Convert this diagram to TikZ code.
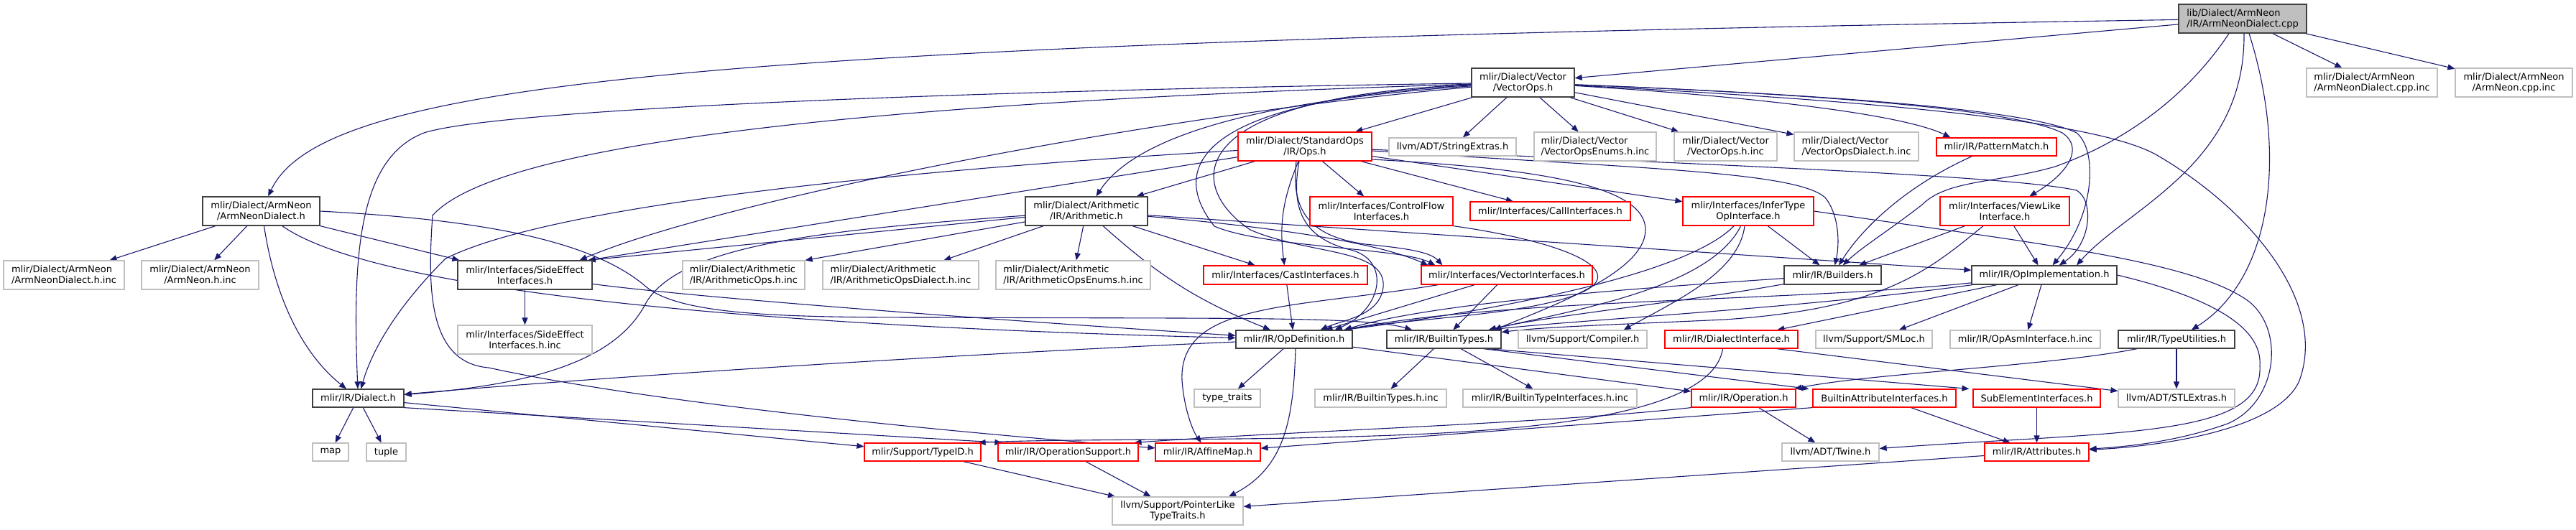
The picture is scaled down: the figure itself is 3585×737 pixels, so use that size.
\documentclass[tikz,border=0pt]{standalone}
\usepackage{fontspec}
\setmainfont{DejaVu Sans}
\usetikzlibrary{arrows.meta}
\pgfdeclarelayer{bg}
\pgfsetlayers{bg,main}
\definecolor{edgec}{RGB}{25,25,112}
\definecolor{gbord}{RGB}{191,191,191}
\definecolor{dbord}{RGB}{64,64,64}
\definecolor{rbord}{RGB}{255,0,0}
\definecolor{rootfill}{RGB}{191,191,191}
\begin{document}
\begin{tikzpicture}[x=1pt,y=-1pt,
  every node/.style={inner sep=0pt, font=\fontsize{13}{15}\selectfont, align=center},
  sz/.style 2 args={minimum width=#1pt, minimum height=#2pt},
  nb/.style={draw=dbord, line width=1.3pt, fill=white},
  nr/.style={draw=rbord, line width=1.2pt, fill=white},
  ng/.style={draw=gbord, line width=1.2pt, fill=white},
  nroot/.style={draw=dbord, line width=1.3pt, fill=rootfill},
  edge/.style={draw=edgec, line width=1.1pt, -{Triangle[length=10pt,width=8pt]}},
]
\useasboundingbox (0,0) rectangle (3585,737);
% ---------------- nodes ----------------
\node[nroot, sz={178}{40}, align=left] (cpp) at (3121,26) {lib/Dialect/ArmNeon\\/IR/ArmNeonDialect.cpp};
\node[nb, sz={143}{40}] (vecops) at (2119.5,115) {mlir/Dialect/Vector\\/VectorOps.h};
\node[ng, sz={182}{40}, align=left] (cppinc) at (3301,115) {mlir/Dialect/ArmNeon\\/ArmNeonDialect.cpp.inc};
\node[ng, sz={163}{40}] (neoncppinc) at (3498.5,115) {mlir/Dialect/ArmNeon\\/ArmNeon.cpp.inc};
\node[nr, sz={186}{40}] (stdops) at (1816,204) {mlir/Dialect/StandardOps\\/IR/Ops.h};
\node[ng, sz={177}{25}] (strext) at (2021.5,204.5) {llvm/ADT/StringExtras.h};
\node[ng, sz={170}{40}, align=left] (enumsinc) at (2220,204) {mlir/Dialect/Vector\\/VectorOpsEnums.h.inc};
\node[ng, sz={143}{40}] (vopsinc) at (2401.5,204) {mlir/Dialect/Vector\\/VectorOps.h.inc};
\node[ng, sz={173}{40}, align=left] (vdialinc) at (2583.5,204) {mlir/Dialect/Vector\\/VectorOpsDialect.h.inc};
\node[nr, sz={167}{25}] (pattern) at (2778.5,204.5) {mlir/IR/PatternMatch.h};
\node[nb, sz={163}{40}] (andh) at (363.5,294) {mlir/Dialect/ArmNeon\\/ArmNeonDialect.h};
\node[nb, sz={170}{40}] (arith) at (1512,294) {mlir/Dialect/Arithmetic\\/IR/Arithmetic.h};
\node[nr, sz={199}{40}] (cflow) at (1922.5,294) {mlir/Interfaces/ControlFlow\\Interfaces.h};
\node[nr, sz={223}{26}] (call) at (2157.5,294) {mlir/Interfaces/CallInterfaces.h};
\node[nr, sz={182}{40}] (infer) at (2433,294) {mlir/Interfaces/InferType\\OpInterface.h};
\node[nr, sz={180}{40}] (viewlike) at (2790,294) {mlir/Interfaces/ViewLike\\Interface.h};
\node[ng, sz={168}{40}, align=left] (andhinc) at (89,383) {mlir/Dialect/ArmNeon\\/ArmNeonDialect.h.inc};
\node[ng, sz={163}{40}] (neonhinc) at (278.5,383) {mlir/Dialect/ArmNeon\\/ArmNeon.h.inc};
\node[nb, sz={187}{40}] (side) at (730.5,383) {mlir/Interfaces/SideEffect\\Interfaces.h};
\node[ng, sz={170}{40}, align=left] (arops) at (1035,383) {mlir/Dialect/Arithmetic\\/IR/ArithmeticOps.h.inc};
\node[ng, sz={217}{40}, align=left] (ardialect) at (1253.5,383) {mlir/Dialect/Arithmetic\\/IR/ArithmeticOpsDialect.h.inc};
\node[ng, sz={215}{40}, align=left] (arenums) at (1493.5,383) {mlir/Dialect/Arithmetic\\/IR/ArithmeticOpsEnums.h.inc};
\node[nr, sz={228}{26}] (cast) at (1789,383) {mlir/Interfaces/CastInterfaces.h};
\node[nr, sz={238}{26}] (vecint) at (2097,383) {mlir/Interfaces/VectorInterfaces.h};
\node[nb, sz={135}{26}] (builders) at (2550.5,383) {mlir/IR/Builders.h};
\node[nb, sz={202}{26}] (opimpl) at (2845,383) {mlir/IR/OpImplementation.h};
\node[ng, sz={187}{40}] (sideinc) at (730.5,473) {mlir/Interfaces/SideEffect\\Interfaces.h.inc};
\node[nb, sz={162}{25}] (opdef) at (1801,472.5) {mlir/IR/OpDefinition.h};
\node[nb, sz={159}{25}] (btypes) at (2009.5,472.5) {mlir/IR/BuiltinTypes.h};
\node[ng, sz={179}{25}] (compiler) at (2202.5,472.5) {llvm/Support/Compiler.h};
\node[nr, sz={185}{25}] (dialectif) at (2409.5,472.5) {mlir/IR/DialectInterface.h};
\node[ng, sz={162}{25}] (smloc) at (2608,472.5) {llvm/Support/SMLoc.h};
\node[ng, sz={209}{25}] (opasm) at (2818.5,472.5) {mlir/IR/OpAsmInterface.h.inc};
\node[nb, sz={162}{25}] (typeutil) at (3029,472.5) {mlir/IR/TypeUtilities.h};
\node[nb, sz={127}{25}] (dialect) at (498.5,554.5) {mlir/IR/Dialect.h};
\node[ng, sz={92}{25}] (typetraits) at (1708,554.5) {type\_traits};
\node[ng, sz={183}{25}] (btinc) at (1921.5,554.5) {mlir/IR/BuiltinTypes.h.inc};
\node[ng, sz={242}{25}] (btifinc) at (2157,554.5) {mlir/IR/BuiltinTypeInterfaces.h.inc};
\node[nr, sz={145}{25}] (operation) at (2426.5,554.5) {mlir/IR/Operation.h};
\node[nr, sz={199}{25}] (battrif) at (2622.5,554.5) {BuiltinAttributeInterfaces.h};
\node[nr, sz={177}{25}] (subel) at (2834.5,554.5) {SubElementInterfaces.h};
\node[ng, sz={162}{25}] (stl) at (3029,554.5) {llvm/ADT/STLExtras.h};
\node[ng, sz={50}{25}] (map) at (460,629.5) {map};
\node[ng, sz={55}{25}] (tuple) at (537.5,629.5) {tuple};
\node[nr, sz={162}{25}] (typeid) at (1284,629.5) {mlir/Support/TypeID.h};
\node[nr, sz={195}{25}] (opsupport) at (1486.5,629.5) {mlir/IR/OperationSupport.h};
\node[nr, sz={146}{25}] (affine) at (1681,629.5) {mlir/IR/AffineMap.h};
\node[ng, sz={135}{25}] (twine) at (2547.5,629.5) {llvm/ADT/Twine.h};
\node[nr, sz={145}{25}] (attrs) at (2834.5,629.5) {mlir/IR/Attributes.h};
\node[ng, sz={182}{39}] (ptrlike) at (1639,711.5) {llvm/Support/PointerLike\\TypeTraits.h};
% ---------------- edges ----------------
\begin{pgfonlayer}{bg}
% cpp
\draw[edge] (cpp) .. controls (1000,60) and (450,110) .. (andh);
\draw[edge] (cpp) -- (vecops);
\draw[edge] (cpp) -- (cppinc);
\draw[edge] (cpp) -- (neoncppinc);
\draw[edge] ([xshift=-19pt]cpp.south) .. controls (3040,140) and (2950,200) .. (2860,232) .. controls (2780,255) and (2710,250) .. (2675,285) .. controls (2630,320) and (2590,345) .. (builders);
\draw[edge] ([xshift=2pt]cpp.south) .. controls (3125,230) and (2960,290) .. ([xshift=45pt]opimpl.north);
\draw[edge] ([xshift=9pt]cpp.south) .. controls (3185,220) and (3160,390) .. (typeutil);
% ArmNeonDialect.h
\draw[edge] (andh) -- (andhinc);
\draw[edge] (andh) -- (neonhinc);
\draw[edge] ([xshift=4pt]andh.south) .. controls (385,430) and (430,500) .. (dialect);
\draw[edge] (andh.south east) -- ([xshift=3pt]side.north west);
\draw[edge] (andh) .. controls (500,390) and (900,450) .. (opdef);
\draw[edge] (andh.east) .. controls (650,305) and (820,330) .. (900,400) .. controls (950,440) and (1100,442) .. (1300,442) .. controls (1700,444) and (1900,440) .. (btypes);
% VectorOps.h
\draw[edge] (vecops) -- (stdops);
\draw[edge] (vecops) -- (strext);
\draw[edge] (vecops) -- (enumsinc);
\draw[edge] (vecops) -- (vopsinc);
\draw[edge] (vecops) -- (vdialinc);
\draw[edge] (vecops) .. controls (2450,135) and (2650,160) .. ([xshift=20pt]pattern.north west);
\draw[edge] (vecops) .. controls (2500,130) and (2800,150) .. (2870,185) .. controls (2900,205) and (2880,240) .. (viewlike);
\draw[edge] (vecops) .. controls (2500,130) and (2820,150) .. (2890,185) .. controls (2920,210) and (2915,300) .. (opimpl);
\draw[edge] (vecops) .. controls (2500,135) and (2900,160) .. (3000,215) .. controls (3130,290) and (3240,420) .. (3200,530) .. controls (3170,600) and (3000,622) .. (attrs);
\draw[edge] (vecops) .. controls (1750,140) and (1580,190) .. (arith);
\draw[edge] (vecops) .. controls (1400,125) and (700,150) .. (590,185) .. controls (500,220) and (490,350) .. (dialect);
\draw[edge] (vecops) .. controls (1300,140) and (700,190) .. (602,300) .. controls (595,400) and (595,505) .. (680,512) .. controls (900,560) and (1300,600) .. (affine);
\draw[edge] (vecops) .. controls (1600,160) and (1000,280) .. ([xshift=-18pt]side.north east);
\draw[edge] (vecops) .. controls (1650,140) and (1630,240) .. (1690,315) .. controls (1760,345) and (1950,345) .. ([xshift=20pt]vecint.north west);
\draw[edge] (vecops) .. controls (1640,135) and (1650,260) .. (1740,320) .. controls (1820,355) and (1930,345) .. (1925,400) .. controls (1920,440) and (1870,445) .. ([xshift=-45pt]opdef.north east);
% StandardOps
\draw[edge] (stdops) .. controls (1200,240) and (760,290) .. (620,360) .. controls (560,420) and (520,480) .. (dialect);
\draw[edge] (stdops) -- ([xshift=-6pt]side.north east);
\draw[edge] (stdops) -- (arith);
\draw[edge] (stdops) to[bend right=15] (cast);
\draw[edge] (stdops) -- (cflow);
\draw[edge] (stdops) -- (call);
\draw[edge] (stdops) -- (infer);
\draw[edge] (stdops) .. controls (2300,235) and (2500,240) .. (2540,275) .. controls (2560,300) and (2560,340) .. (builders);
\draw[edge] (stdops) .. controls (2400,230) and (2800,245) .. (2890,265) .. controls (2915,280) and (2910,340) .. (opimpl);
\draw[edge] ([xshift=-8pt]stdops.south) .. controls (1798,280) and (1805,330) .. (1880,348) .. controls (1935,362) and (1925,430) .. ([xshift=-25pt]opdef.north east);
\draw[edge] ([xshift=-12pt]stdops.south) .. controls (1795,300) and (1830,330) .. (1900,340) .. controls (1950,345) and (1990,350) .. ([xshift=30pt]vecint.north west);
\draw[edge] ([yshift=-18pt]stdops.east) .. controls (2150,235) and (2290,260) .. (2290,320) .. controls (2290,380) and (2150,430) .. ([xshift=-10pt]btypes.north east);
% Arithmetic.h
\draw[edge] (arith) .. controls (1150,320) and (950,340) .. (900,420) .. controls (860,500) and (750,535) .. (dialect);
\draw[edge] (arith) -- ([xshift=-6pt]side.north east);
\draw[edge] (arith) -- (arops.north east);
\draw[edge] (arith) -- (ardialect);
\draw[edge] (arith) -- (arenums);
\draw[edge] (arith) to[bend right=10] (opdef);
\draw[edge] (arith) -- (cast);
\draw[edge] (arith) .. controls (1700,310) and (1900,330) .. ([xshift=10pt]vecint.north west);
\draw[edge] (arith) -- (opimpl);
% SideEffectInterfaces.h
\draw[edge] (side) -- (sideinc);
\draw[edge] (side) .. controls (950,412) and (1300,440) .. (opdef);
% interfaces
\draw[edge] (cast) -- (opdef);
\draw[edge] (cflow.south east) .. controls (2200,340) and (2280,385) .. (2180,415) .. controls (2100,440) and (1950,445) .. ([xshift=-12pt]opdef.north east);
\draw[edge] (vecint) -- (opdef);
\draw[edge] (vecint) -- (btypes);
\draw[edge] ([xshift=24pt]vecint.south west) .. controls (1800,430) and (1640,420) .. (1645,530) .. controls (1648,570) and (1660,600) .. (affine);
\draw[edge] (infer) -- (builders);
\draw[edge] (infer) .. controls (2350,380) and (2100,430) .. ([xshift=-12pt]opdef.north east);
\draw[edge] (infer) .. controls (2380,400) and (2200,430) .. ([xshift=-18pt]btypes.north east);
\draw[edge] ([xshift=-5pt]infer.south) .. controls (2420,380) and (2330,420) .. ([xshift=-33pt]compiler.north east);
\draw[edge] (infer.east) .. controls (2800,335) and (3050,360) .. (3130,420) .. controls (3180,460) and (3170,560) .. (3100,590) .. controls (3030,615) and (2960,622) .. (attrs);
\draw[edge] ([xshift=-34pt]pattern.south) .. controls (2650,260) and (2590,320) .. (builders);
\draw[edge] (viewlike) -- (builders);
\draw[edge] (viewlike) -- (opimpl);
\draw[edge] ([xshift=-30pt]viewlike.south) .. controls (2680,380) and (2620,430) .. (2400,445) .. controls (2250,452) and (2150,455) .. (btypes);
% Builders / OpImplementation
\draw[edge] (builders) .. controls (2300,400) and (2000,420) .. ([xshift=-12pt]opdef.north east);
\draw[edge] (builders) .. controls (2350,420) and (2150,440) .. ([xshift=-18pt]btypes.north east);
\draw[edge] (opimpl) .. controls (2500,420) and (2100,415) .. ([xshift=-12pt]opdef.north east);
\draw[edge] (opimpl) .. controls (2500,430) and (2200,445) .. ([xshift=-18pt]btypes.north east);
\draw[edge] (opimpl) -- (dialectif);
\draw[edge] (opimpl) -- (smloc);
\draw[edge] (opimpl) -- (opasm);
\draw[edge] (opimpl.east) .. controls (3060,410) and (3150,450) .. (3145,510) .. controls (3150,610) and (2950,600) .. (twine);
% TypeUtilities / DialectInterface
\draw[edge] (typeutil) -- (stl);
\draw[edge] ([xshift=-55pt]typeutil.south) .. controls (2850,510) and (2600,520) .. ([xshift=-2pt]operation.north east);
\draw[edge] ([xshift=-30pt]dialectif.south east) -- (stl);
\draw[edge] ([xshift=-12pt]dialectif.south) .. controls (2380,600) and (2000,605) .. (1800,610) .. controls (1600,613) and (1450,612) .. ([xshift=-4pt]typeid.north east);
% OpDefinition / BuiltinTypes
\draw[edge] (opdef) -- (typetraits);
\draw[edge] ([xshift=2pt]opdef.south) .. controls (1800,580) and (1790,650) .. ([xshift=71pt]ptrlike.north);
\draw[edge] (opdef) -- (operation);
\draw[edge] (opdef) .. controls (1400,490) and (900,520) .. (dialect);
\draw[edge] (btypes) -- (btinc);
\draw[edge] (btypes) -- (btifinc);
\draw[edge] ([xshift=-25pt]btypes.south east) -- ([xshift=-5pt]battrif.north west);
\draw[edge] ([xshift=-18pt]btypes.south east) -- ([xshift=-5pt]subel.north west);
% lower level
\draw[edge] (operation) -- (twine);
\draw[edge] (operation.south west) .. controls (2150,590) and (1800,600) .. ([xshift=-6pt]opsupport.north east);
\draw[edge] (battrif) -- (attrs);
\draw[edge] (battrif.south west) -- (affine);
\draw[edge] (subel) -- (attrs);
\draw[edge] (attrs) -- (ptrlike);
\draw[edge] (dialect) -- (map);
\draw[edge] (dialect) -- (tuple);
\draw[edge] (dialect) -- (typeid);
\draw[edge] (dialect.south east) -- ([xshift=6pt]opsupport.north west);
\draw[edge] (typeid) -- (ptrlike);
\draw[edge] (opsupport) -- (ptrlike);
\end{pgfonlayer}
\end{tikzpicture}
\end{document}
